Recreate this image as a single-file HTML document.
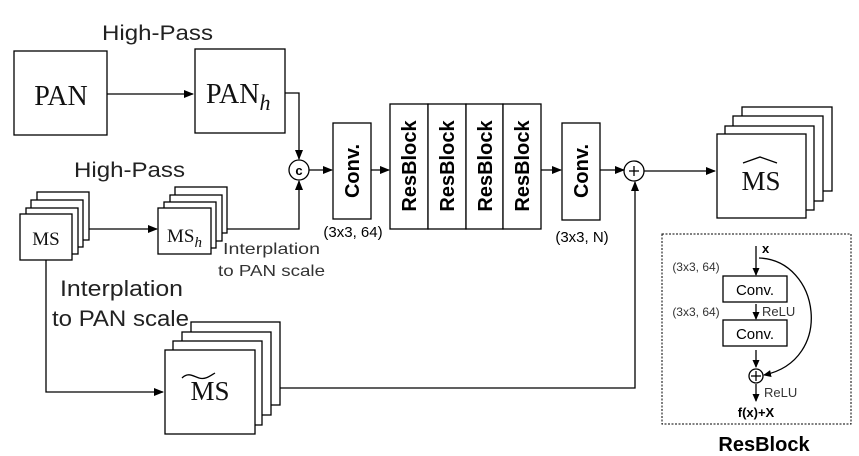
<!DOCTYPE html>
<html><head><style>
html,body{margin:0;padding:0;background:#fff;}
svg{display:block;}
.s{font-family:"Liberation Sans",sans-serif;}
.r{font-family:"Liberation Serif","DejaVu Serif",serif;}
</style></head><body>
<svg width="859" height="456" viewBox="0 0 859 456" xmlns="http://www.w3.org/2000/svg">
<defs>
<marker id="a" markerWidth="10" markerHeight="8" refX="9" refY="4" orient="auto" markerUnits="userSpaceOnUse">
<path d="M0,0 L10,4 L0,8 z" fill="#000"/></marker>
<marker id="b" markerWidth="8" markerHeight="7" refX="7" refY="3.5" orient="auto" markerUnits="userSpaceOnUse">
<path d="M0,0 L8,3.5 L0,7 z" fill="#000"/></marker>
</defs>
<g fill="#fff" stroke="#000" stroke-width="1.3">
<rect x="14" y="51" width="93" height="84"/>
<rect x="195" y="49" width="90" height="84"/>
<rect x="37" y="192" width="52" height="48"/>
<rect x="31" y="200" width="52" height="47"/>
<rect x="26" y="208" width="52" height="46"/>
<rect x="20" y="214" width="52" height="46"/>
<rect x="175" y="187" width="52" height="46"/>
<rect x="170" y="195" width="52" height="46"/>
<rect x="164" y="202" width="52" height="46"/>
<rect x="158" y="208" width="53" height="46"/>
<rect x="191" y="322" width="89" height="83"/>
<rect x="182" y="332" width="89" height="83"/>
<rect x="173" y="341" width="89" height="84"/>
<rect x="165" y="350" width="90" height="84"/>
<rect x="742" y="107" width="90" height="84"/>
<rect x="733" y="116" width="90" height="85"/>
<rect x="725" y="126" width="89" height="84"/>
<rect x="717" y="134" width="89" height="84"/>
<rect x="333" y="123" width="38" height="96"/>
<rect x="390" y="104" width="38" height="125"/>
<rect x="428" y="104" width="38" height="125"/>
<rect x="466" y="104" width="37" height="125"/>
<rect x="503" y="104" width="38" height="125"/>
<rect x="562" y="123" width="38" height="97"/>
</g>
<g stroke="#000" stroke-width="1.3" fill="none">
<line x1="107" y1="94" x2="193" y2="94" marker-end="url(#a)"/>
<polyline points="285,93 299,93 299,159" marker-end="url(#a)"/>
<polyline points="227,229 299,229 299,181" marker-end="url(#a)"/>
<circle cx="299" cy="170" r="10"/>
<line x1="309" y1="170" x2="332" y2="170" marker-end="url(#a)"/>
<line x1="371" y1="170" x2="389" y2="170" marker-end="url(#a)"/>
<line x1="541" y1="170" x2="561" y2="170" marker-end="url(#a)"/>
<line x1="600" y1="170" x2="624" y2="170" marker-end="url(#a)"/>
<circle cx="634" cy="171" r="10"/>
<line x1="629" y1="171" x2="639" y2="171"/><line x1="634" y1="166" x2="634" y2="176"/>
<line x1="644" y1="171" x2="715" y2="171" marker-end="url(#a)"/>
<line x1="89" y1="229" x2="157" y2="229" marker-end="url(#a)"/>
<polyline points="46,260 46,392 163,392" marker-end="url(#a)"/>
<polyline points="280,388 635,388 635,182" marker-end="url(#a)"/>
<rect x="662" y="234" width="189" height="190" stroke-dasharray="2,1.5" stroke-width="1"/>
<rect x="723" y="276" width="64" height="26" fill="#fff"/>
<rect x="723" y="320" width="64" height="26" fill="#fff"/>
<line x1="756" y1="246" x2="756" y2="275" marker-end="url(#b)"/>
<line x1="756" y1="304" x2="756" y2="319" marker-end="url(#b)"/>
<line x1="756" y1="350" x2="756" y2="367" marker-end="url(#b)"/>
<circle cx="756" cy="376" r="7"/>
<line x1="751" y1="376" x2="761" y2="376"/><line x1="756" y1="371" x2="756" y2="381"/>
<line x1="756" y1="384" x2="756" y2="401" marker-end="url(#b)"/>
<path d="M759,258 C820,260 835,360 764,375" marker-end="url(#b)"/>
<path d="M182,378 C188,372 193,376 199,378 C205,380 210,376 215,373"/>
<path d="M743,163 L760,157 L777,163"/>
</g>
<g class="s" fill="#000">
<text x="102" y="40" font-size="21" textLength="111" lengthAdjust="spacingAndGlyphs" fill="#222">High-Pass</text>
<text x="74" y="177" font-size="21" textLength="111" lengthAdjust="spacingAndGlyphs" fill="#222">High-Pass</text>
<text x="223" y="254" font-size="16" textLength="97" lengthAdjust="spacingAndGlyphs" fill="#333">Interplation</text>
<text x="218" y="276" font-size="16" textLength="107" lengthAdjust="spacingAndGlyphs" fill="#333">to PAN scale</text>
<text x="60" y="296" font-size="22" textLength="123" lengthAdjust="spacingAndGlyphs" fill="#222">Interplation</text>
<text x="52" y="326" font-size="22" textLength="137" lengthAdjust="spacingAndGlyphs" fill="#222">to PAN scale</text>
<text x="353" y="237" font-size="15" text-anchor="middle">(3x3, 64)</text>
<text x="582" y="242" font-size="15" text-anchor="middle">(3x3, N)</text>
<text x="299" y="175" font-size="13" font-weight="bold" text-anchor="middle">c</text>
<g font-size="20" font-weight="bold" text-anchor="middle">
<text transform="translate(359,171) rotate(-90)">Conv.</text>
<text transform="translate(416,166) rotate(-90)">ResBlock</text>
<text transform="translate(454,166) rotate(-90)">ResBlock</text>
<text transform="translate(492,166) rotate(-90)">ResBlock</text>
<text transform="translate(529,166) rotate(-90)">ResBlock</text>
<text transform="translate(588,171) rotate(-90)">Conv.</text>
</g>
<text x="764" y="451" font-size="20" font-weight="bold" text-anchor="middle">ResBlock</text>
<text x="762" y="253" font-size="13" font-weight="bold">x</text>
<text x="755" y="295" font-size="15" text-anchor="middle">Conv.</text>
<text x="755" y="339" font-size="15" text-anchor="middle">Conv.</text>
<text x="696" y="271" font-size="12" text-anchor="middle" fill="#333">(3x3, 64)</text>
<text x="696" y="316" font-size="12" text-anchor="middle" fill="#333">(3x3, 64)</text>
<text x="762" y="316" font-size="13" fill="#333">ReLU</text>
<text x="764" y="397" font-size="13" fill="#333">ReLU</text>
<text x="756" y="417" font-size="13" font-weight="bold" text-anchor="middle">f(x)+X</text>
</g>
<g class="r" fill="#111">
<text x="61" y="105" font-size="28" text-anchor="middle">PAN</text>
<text x="206" y="103" font-size="28">PAN<tspan font-style="italic" font-size="22" dy="7">h</tspan></text>
<text x="46" y="245" font-size="19" text-anchor="middle">MS</text>
<text x="167" y="242" font-size="19">MS<tspan font-style="italic" font-size="15" dy="5">h</tspan></text>
<text x="210" y="400" font-size="27" text-anchor="middle">MS</text>
<text x="761" y="190" font-size="27" text-anchor="middle">MS</text>
</g>
</svg>
</body></html>
